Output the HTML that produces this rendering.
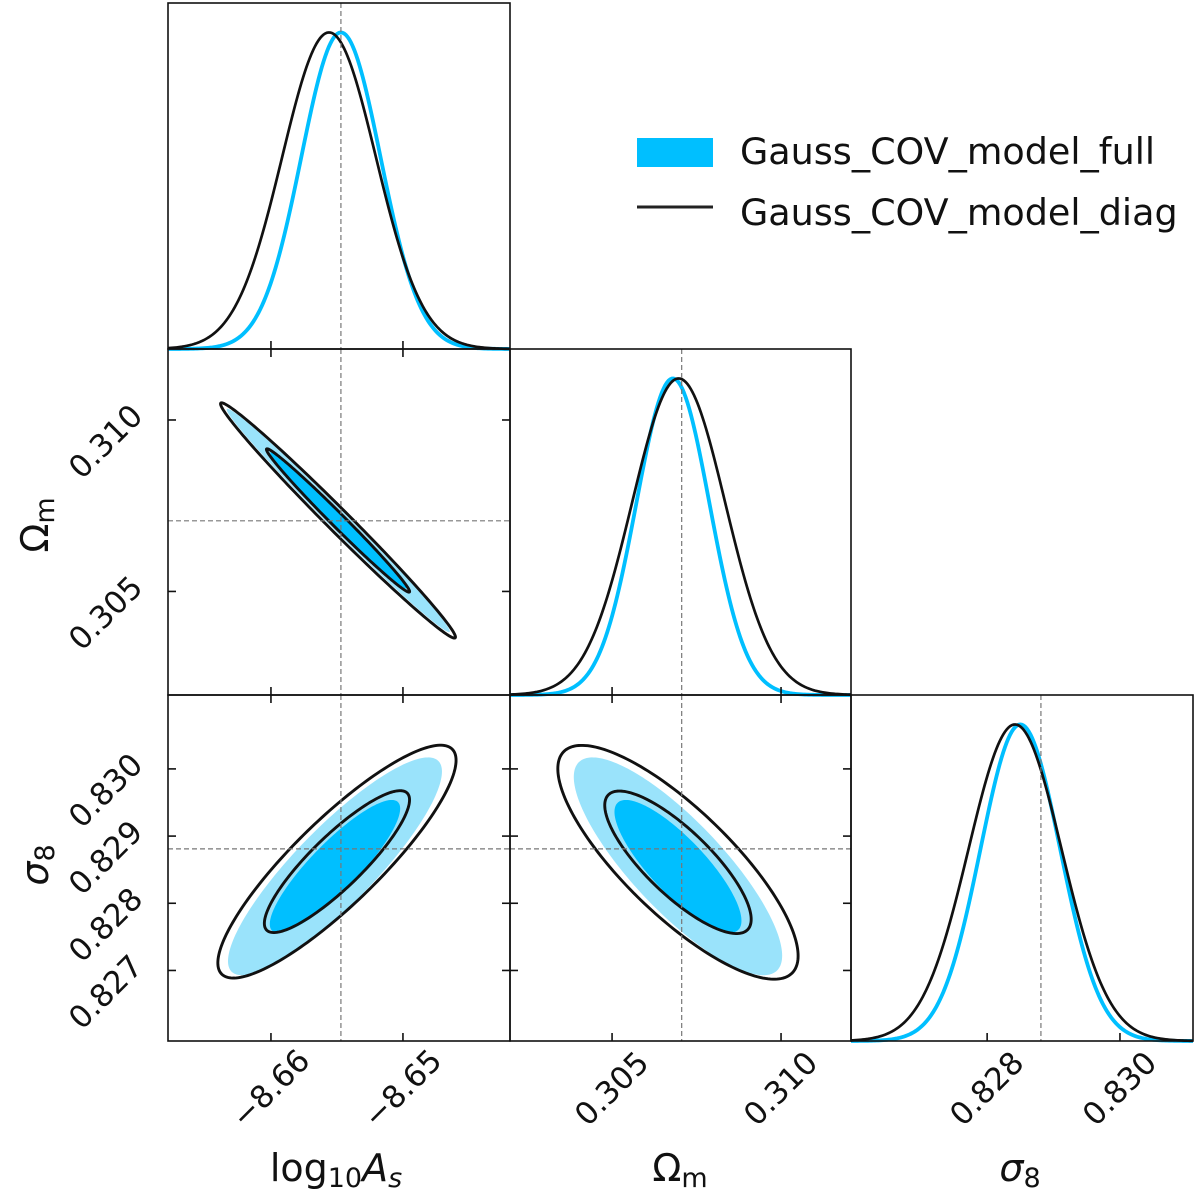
<!DOCTYPE html>
<html><head><meta charset="utf-8"><style>
html,body{margin:0;padding:0;background:#fff;}
svg{display:block;}
text{font-family:"DejaVu Sans","Liberation Sans",sans-serif;fill:#111;}
</style></head><body>
<svg id="fig" width="1200" height="1193" viewBox="0 0 1200 1193" xmlns="http://www.w3.org/2000/svg">
<g id="layer-fill"></g>
<g id="layer-line"></g>
<g id="layer-axes"></g>
<g>
  <rect x="637" y="138" width="76" height="29" fill="#00bfff"/>
  <text x="740" y="164" font-size="36.5">Gauss_COV_model_full</text>
  <line x1="637" y1="207" x2="713" y2="207" stroke="#222" stroke-width="3"/>
  <text x="740" y="225" font-size="36.5">Gauss_COV_model_diag</text>
</g>
<g>
  <text x="336" y="1181" font-size="38" text-anchor="middle">log<tspan font-size="27" dy="6">10</tspan><tspan font-style="italic" dy="-6">A</tspan><tspan font-style="italic" font-size="27" dy="6">s</tspan></text>
  <text x="680" y="1181" font-size="38" text-anchor="middle">Ω<tspan font-size="27" dy="6">m</tspan></text>
  <text x="1020" y="1181" font-size="38" text-anchor="middle" font-style="italic">σ<tspan font-style="normal" font-size="27" dy="6">8</tspan></text>
  <text transform="translate(48,525) rotate(-90)" font-size="38" text-anchor="middle">Ω<tspan font-size="27" dy="6">m</tspan></text>
  <text transform="translate(48,865) rotate(-90)" font-size="38" text-anchor="middle" font-style="italic">σ<tspan font-style="normal" font-size="27" dy="6">8</tspan></text>
</g>
</svg>
<script>
// ---- data ----
const params = ["log10As", "Om", "s8"];
const truths = [-8.65470, 0.30706, 0.82881];
const ranges = [[-8.66780, -8.64189], [0.30198, 0.31207], [0.82595, 0.83110]];
const ticksAs = [-8.66, -8.65];
const ticksOm = [0.305, 0.310];
const ticksS8x = [0.828, 0.830];
const ticksS8y = [0.827, 0.828, 0.829, 0.830];
const tickLabelsAs = ["\u22128.66", "\u22128.65"];
const tickLabelsOm = ["0.305", "0.310"];
const tickLabelsS8x = ["0.828", "0.830"];
const tickLabelsS8y = ["0.827", "0.828", "0.829", "0.830"];
// 1D marginals: [mean, sigma]
const margFull = [[-8.65470, 0.00300], [0.30680, 0.00108], [0.82850, 0.00060]];
const margDiag = [[-8.65560, 0.00355], [0.30697, 0.00138], [0.82842, 0.000700]];
// 2D: [meanX, meanY, sigX, sigY, rho]
const pairAsOmFull = [-8.65490, 0.30707, 0.00340, 0.00131, -0.993];
const pairAsOmDiag = [-8.65492, 0.30707, 0.00358, 0.00138, -0.991];
const pairAsS8Full = [-8.65515, 0.82855, 0.00326, 0.000652, 0.87];
const pairAsS8Diag = [-8.65500, 0.82862, 0.00363, 0.000697, 0.87];
const pairOmS8Full = [0.30695, 0.82855, 0.00124, 0.000652, -0.82];
const pairOmS8Diag = [0.30695, 0.82861, 0.00143, 0.000700, -0.80];
const levels = [2.486, 1.515];

// ---- layout ----
const EX = [168, 510, 851, 1193];
const EY = [3, 349, 695, 1041];
const NS = "http://www.w3.org/2000/svg";
const gF = document.getElementById("layer-fill");
const gL = document.getElementById("layer-line");
const gA = document.getElementById("layer-axes");
function mk(tag, attrs, parent) {
  const e = document.createElementNS(NS, tag);
  for (const k in attrs) e.setAttribute(k, attrs[k]);
  parent.appendChild(e);
  return e;
}
function sx(i, v) { const r = ranges[i]; return EX[i] + (v - r[0]) / (r[1] - r[0]) * (EX[i + 1] - EX[i]); }
function sy(j, v) { const r = ranges[j]; return EY[j + 1] - (v - r[0]) / (r[1] - r[0]) * (EY[j + 1] - EY[j]); }
const ymax1d = 1.093;
function sy1(j, v) { return EY[j + 1] - v / ymax1d * (EY[j + 1] - EY[j]); }

function drawMarg(i, m, color, w, name) {
  let d = "";
  const n = 200;
  for (let k = 0; k <= n; k++) {
    const v = ranges[i][0] + (ranges[i][1] - ranges[i][0]) * k / n;
    const p = Math.exp(-0.5 * Math.pow((v - m[0]) / m[1], 2));
    d += (k ? "L" : "M") + sx(i, v).toFixed(2) + "," + sy1(i, p).toFixed(2);
  }
  const e = mk("path", { d: d, fill: "none", stroke: color, "stroke-width": w }, gL);
  
  
}
function ellPath(i, j, p, k) {
  let d = "";
  const n = 200, c = Math.sqrt(1 - p[4] * p[4]);
  for (let t = 0; t <= n; t++) {
    const a = 2 * Math.PI * t / n;
    const vx = p[0] + k * p[2] * Math.cos(a);
    const vy = p[1] + k * p[3] * (p[4] * Math.cos(a) + c * Math.sin(a));
    d += (t ? "L" : "M") + sx(i, vx).toFixed(2) + "," + sy(j, vy).toFixed(2);
  }
  return d + "Z";
}
function drawPair(i, j, full, diag, name) {
  const f0 = mk("path", { d: ellPath(i, j, full, levels[0]), fill: "#9ae3fb" }, gF);
  
  
  const f1 = mk("path", { d: ellPath(i, j, full, levels[1]), fill: "#00bfff" }, gF);
  
  
  levels.forEach((k, idx) => {
    const e = mk("path", { d: ellPath(i, j, diag, k), fill: "none", stroke: "#111", "stroke-width": 2.9 }, gL);
    
    
  });
}
drawMarg(0, margFull[0], "#00bfff", 3.8, "marginal-log10As-full");
drawMarg(0, margDiag[0], "#111", 2.7, "marginal-log10As-diag");
drawMarg(1, margFull[1], "#00bfff", 3.8, "marginal-omega-m-full");
drawMarg(1, margDiag[1], "#111", 2.7, "marginal-omega-m-diag");
drawMarg(2, margFull[2], "#00bfff", 3.8, "marginal-sigma8-full");
drawMarg(2, margDiag[2], "#111", 2.7, "marginal-sigma8-diag");
drawPair(0, 1, pairAsOmFull, pairAsOmDiag, "contour-log10As-omega-m");
drawPair(0, 2, pairAsS8Full, pairAsS8Diag, "contour-log10As-sigma8");
drawPair(1, 2, pairOmS8Full, pairOmS8Diag, "contour-omega-m-sigma8");

const panels = [[0, 0], [0, 1], [1, 1], [0, 2], [1, 2], [2, 2]];
panels.forEach(([i, j]) => {
  const x = sx(i, truths[i]);
  const v = mk("line", { x1: x, y1: EY[j], x2: x, y2: EY[j + 1], stroke: "#777", "stroke-width": 1.2, "stroke-dasharray": "5,3" }, gA);
  
  
  if (i !== j) {
    const y = sy(j, truths[j]);
    const h = mk("line", { x1: EX[i], y1: y, x2: EX[i + 1], y2: y, stroke: "#777", "stroke-width": 1.2, "stroke-dasharray": "5,3" }, gA);
    
    
  }
});

const xTicks = [ticksAs, ticksOm, ticksS8x];
const yTicks = [null, ticksOm, ticksS8y];
const TL = 8;
panels.forEach(([i, j]) => {
  const r = mk("rect", { x: EX[i], y: EY[j], width: EX[i + 1] - EX[i], height: EY[j + 1] - EY[j], fill: "none", stroke: "#111", "stroke-width": 1.6 }, gA);
  
  
  xTicks[i].forEach(t => {
    const x = sx(i, t);
    const a = mk("line", { x1: x, y1: EY[j + 1], x2: x, y2: EY[j + 1] - TL, stroke: "#111", "stroke-width": 1.6 }, gA);
    
    
    if (i !== j) {
      const b = mk("line", { x1: x, y1: EY[j], x2: x, y2: EY[j] + TL, stroke: "#111", "stroke-width": 1.6 }, gA);
      
      
    }
  });
  if (i !== j) {
    yTicks[j].forEach(t => {
      const y = sy(j, t);
      const a = mk("line", { x1: EX[i], y1: y, x2: EX[i] + TL, y2: y, stroke: "#111", "stroke-width": 1.6 }, gA);
      
      
      const b = mk("line", { x1: EX[i + 1], y1: y, x2: EX[i + 1] - TL, y2: y, stroke: "#111", "stroke-width": 1.6 }, gA);
      
      
    });
  }
});

const xLabels = [tickLabelsAs, tickLabelsOm, tickLabelsS8x];
xTicks.forEach((ts, i) => {
  ts.forEach((t, k) => {
    const x = sx(i, t);
    const e = mk("text", { x: 0, y: 0, "font-size": 31, "text-anchor": "middle", "dominant-baseline": "central", transform: "translate(" + x + ",1089) rotate(-45)" }, gA);
    e.textContent = xLabels[i][k];
    
    
  });
});
const yLabels = [null, tickLabelsOm, tickLabelsS8y];
[1, 2].forEach(j => {
  yTicks[j].forEach((t, k) => {
    const y = sy(j, t) + 22;
    const e = mk("text", { x: 0, y: 0, "font-size": 31, "text-anchor": "middle", "dominant-baseline": "central", transform: "translate(106," + y + ") rotate(-45)" }, gA);
    e.textContent = yLabels[j][k];
    
    
  });
});
</script>
</body></html>
